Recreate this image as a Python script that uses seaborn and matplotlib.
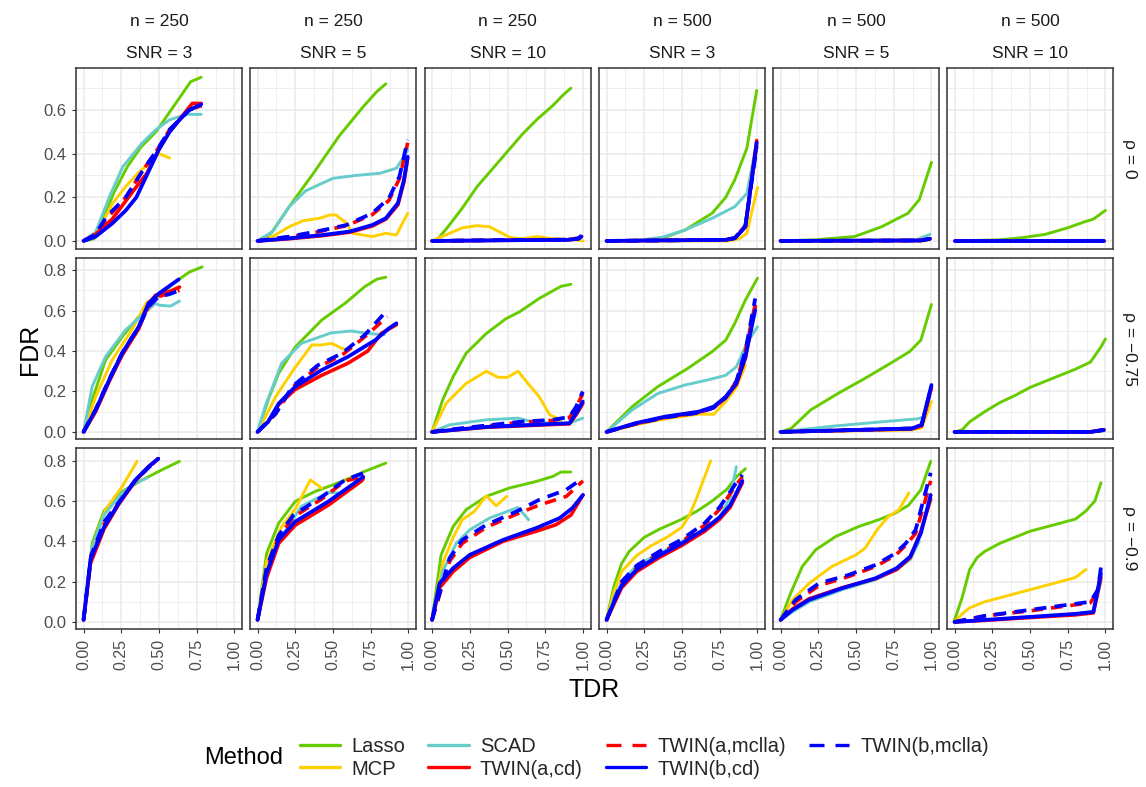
import matplotlib
matplotlib.use("Agg")
import matplotlib.pyplot as plt
import seaborn as sns
import pandas as pd
from matplotlib.lines import Line2D

# ---------------- data ----------------
methods = ["Lasso", "MCP", "SCAD", "TWIN(a,cd)", "TWIN(a,mclla)", "TWIN(b,cd)", "TWIN(b,mclla)"]
col_n = [250, 250, 250, 500, 500, 500]
col_snr = [3, 5, 10, 3, 5, 10]
row_rho = ["0", "\u22120.75", "\u22120.9"]
x_ticks = [0.0, 0.25, 0.5, 0.75, 1.0]
x_tick_labels = ["0.00", "0.25", "0.50", "0.75", "1.00"]
y_ticks_row = [[0.0, 0.2, 0.4, 0.6], [0.0, 0.2, 0.4, 0.6, 0.8], [0.0, 0.2, 0.4, 0.6, 0.8]]

# each panel: method -> (TDR list, FDR list)
rho0_n250_snr3 = {
    "Lasso": ([0, 0.07, 0.13, 0.2, 0.29, 0.38, 0.48, 0.56, 0.64, 0.71, 0.78],
              [0, 0.01, 0.1, 0.22, 0.34, 0.43, 0.5, 0.58, 0.66, 0.73, 0.75]),
    "MCP": ([0, 0.1, 0.19, 0.28, 0.36, 0.44, 0.5, 0.57],
            [0, 0.05, 0.17, 0.25, 0.31, 0.36, 0.4, 0.38]),
    "SCAD": ([0, 0.08, 0.17, 0.26, 0.39, 0.48, 0.57, 0.68, 0.78],
             [0, 0.04, 0.2, 0.34, 0.45, 0.51, 0.555, 0.58, 0.58]),
    "TWIN(a,cd)": ([0, 0.08, 0.19, 0.33, 0.42, 0.5, 0.57, 0.64, 0.72, 0.78],
                   [0, 0.03, 0.1, 0.23, 0.31, 0.42, 0.5, 0.56, 0.63, 0.63]),
    "TWIN(a,mclla)": ([0, 0.08, 0.15, 0.28, 0.39, 0.5, 0.57, 0.7, 0.78],
                      [0, 0.03, 0.1, 0.2, 0.32, 0.43, 0.51, 0.6, 0.62]),
    "TWIN(b,cd)": ([0, 0.08, 0.19, 0.28, 0.35, 0.415, 0.5, 0.57, 0.636, 0.7, 0.78],
                   [0, 0.02, 0.08, 0.14, 0.2, 0.295, 0.42, 0.5, 0.555, 0.6, 0.626]),
    "TWIN(b,mclla)": ([0, 0.08, 0.15, 0.28, 0.39, 0.5, 0.57, 0.7, 0.78],
                      [0, 0.03, 0.11, 0.2, 0.32, 0.43, 0.51, 0.6, 0.62]),
}
rho0_n250_snr5 = {
    "Lasso": ([0, 0.09, 0.21, 0.37, 0.54, 0.70, 0.79, 0.85],
              [0, 0.035, 0.157, 0.31, 0.48, 0.615, 0.684, 0.72]),
    "MCP": ([0, 0.1, 0.21, 0.3, 0.41, 0.48, 0.52, 0.59, 0.63, 0.76, 0.85, 0.92, 0.995],
            [0, 0.02, 0.065, 0.092, 0.104, 0.119, 0.119, 0.081, 0.035, 0.02, 0.035, 0.027, 0.127]),
    "SCAD": ([0, 0.1, 0.21, 0.32, 0.5, 0.65, 0.81, 0.92, 0.97, 0.995],
             [0, 0.043, 0.157, 0.23, 0.287, 0.30, 0.31, 0.333, 0.386, 0.417]),
    "TWIN(a,cd)": ([0, 0.21, 0.43, 0.61, 0.76, 0.85, 0.93, 0.97, 0.995],
                   [0, 0.01, 0.024, 0.04, 0.068, 0.1, 0.165, 0.27, 0.38]),
    "TWIN(a,mclla)": ([0, 0.21, 0.39, 0.59, 0.76, 0.87, 0.94, 0.995],
                      [0, 0.018, 0.04, 0.07, 0.12, 0.185, 0.285, 0.45]),
    "TWIN(b,cd)": ([0, 0.21, 0.43, 0.61, 0.76, 0.85, 0.93, 0.97, 0.995],
                   [0, 0.012, 0.027, 0.043, 0.073, 0.104, 0.173, 0.28, 0.386]),
    "TWIN(b,mclla)": ([0, 0.21, 0.39, 0.59, 0.76, 0.87, 0.94, 0.995],
                      [0, 0.02, 0.043, 0.073, 0.127, 0.195, 0.295, 0.463]),
}
rho0_n250_snr10 = {
    "Lasso": ([0, 0.04, 0.1, 0.2, 0.3, 0.4, 0.5, 0.6, 0.7, 0.8, 0.87, 0.92],
              [0, 0.01, 0.06, 0.15, 0.25, 0.33, 0.41, 0.49, 0.56, 0.62, 0.67, 0.70]),
    "MCP": ([0, 0.1, 0.2, 0.3, 0.38, 0.45, 0.52, 0.6, 0.7, 0.8, 0.95, 1.0],
            [0, 0.03, 0.06, 0.07, 0.065, 0.04, 0.015, 0.01, 0.02, 0.01, 0.005, 0.0]),
    "SCAD": ([0, 0.5, 0.9, 0.98], [0, 0.003, 0.005, 0.01]),
    "TWIN(a,cd)": ([0, 0.5, 0.9, 0.97, 0.99], [0, 0.003, 0.005, 0.01, 0.02]),
    "TWIN(a,mclla)": ([0, 0.5, 0.9, 0.97, 0.99], [0, 0.004, 0.006, 0.012, 0.025]),
    "TWIN(b,cd)": ([0, 0.5, 0.9, 0.97, 0.99], [0, 0.003, 0.005, 0.01, 0.02]),
    "TWIN(b,mclla)": ([0, 0.5, 0.9, 0.97, 0.99], [0, 0.004, 0.006, 0.012, 0.025]),
}
rho0_n500_snr3 = {
    "Lasso": ([0, 0.34, 0.52, 0.70, 0.79, 0.85, 0.93, 0.995],
              [0, 0.005, 0.05, 0.127, 0.20, 0.28, 0.425, 0.69]),
    "MCP": ([0, 0.8, 0.88, 0.93, 1.0], [0, 0.0, 0.01, 0.035, 0.245]),
    "SCAD": ([0, 0.2, 0.37, 0.52, 0.70, 0.85, 0.93, 0.985],
             [0, 0.002, 0.017, 0.05, 0.104, 0.157, 0.218, 0.417]),
    "TWIN(a,cd)": ([0, 0.79, 0.85, 0.92, 0.995], [0, 0.005, 0.012, 0.065, 0.46]),
    "TWIN(a,mclla)": ([0, 0.79, 0.85, 0.92, 0.995], [0, 0.005, 0.014, 0.07, 0.44]),
    "TWIN(b,cd)": ([0, 0.79, 0.85, 0.92, 0.995], [0, 0.005, 0.012, 0.065, 0.45]),
    "TWIN(b,mclla)": ([0, 0.79, 0.85, 0.92, 0.995], [0, 0.005, 0.014, 0.07, 0.43]),
}
rho0_n500_snr5 = {
    "Lasso": ([0, 0.23, 0.49, 0.67, 0.845, 0.92, 1.0], [0, 0.005, 0.02, 0.065, 0.127, 0.19, 0.36]),
    "MCP": ([0, 0.95, 0.99], [0, 0.0, 0.005]),
    "SCAD": ([0, 0.9, 0.99], [0, 0.005, 0.03]),
    "TWIN(a,cd)": ([0, 0.93, 0.99], [0, 0.002, 0.01]),
    "TWIN(a,mclla)": ([0, 0.93, 0.99], [0, 0.002, 0.01]),
    "TWIN(b,cd)": ([0, 0.93, 0.99], [0, 0.002, 0.01]),
    "TWIN(b,mclla)": ([0, 0.93, 0.99], [0, 0.002, 0.01]),
}
rho0_n500_snr10 = {
    "Lasso": ([0, 0.3, 0.45, 0.6, 0.75, 0.85, 0.92, 1.0], [0, 0.005, 0.015, 0.03, 0.06, 0.085, 0.1, 0.14]),
    "MCP": ([0, 0.99], [0, 0.0]),
    "SCAD": ([0, 0.99], [0, 0.003]),
    "TWIN(a,cd)": ([0, 0.99], [0, 0.0]),
    "TWIN(a,mclla)": ([0, 0.99], [0, 0.0]),
    "TWIN(b,cd)": ([0, 0.99], [0, 0.0]),
    "TWIN(b,mclla)": ([0, 0.99], [0, 0.0]),
}
rho75_n250_snr3 = {
    "Lasso": ([0, 0.057, 0.146, 0.256, 0.366, 0.477, 0.61, 0.70, 0.786],
              [0, 0.158, 0.356, 0.47, 0.57, 0.66, 0.742, 0.79, 0.816]),
    "MCP": ([0, 0.08, 0.19, 0.32, 0.42, 0.477], [0, 0.174, 0.356, 0.504, 0.643, 0.66]),
    "SCAD": ([0, 0.057, 0.146, 0.278, 0.39, 0.477, 0.50, 0.576, 0.636],
             [0, 0.224, 0.372, 0.504, 0.578, 0.636, 0.627, 0.622, 0.647]),
    "TWIN(a,cd)": ([0, 0.08, 0.17, 0.256, 0.366, 0.43, 0.477, 0.565, 0.636],
                   [0, 0.1, 0.25, 0.38, 0.51, 0.63, 0.676, 0.693, 0.716]),
    "TWIN(a,mclla)": ([0, 0.08, 0.17, 0.256, 0.366, 0.43, 0.5, 0.636],
                      [0, 0.11, 0.26, 0.39, 0.52, 0.62, 0.67, 0.70]),
    "TWIN(b,cd)": ([0, 0.08, 0.17, 0.256, 0.366, 0.43, 0.5, 0.63],
                   [0, 0.109, 0.257, 0.39, 0.52, 0.636, 0.685, 0.754]),
    "TWIN(b,mclla)": ([0, 0.08, 0.17, 0.256, 0.366, 0.43, 0.5, 0.565, 0.636],
                      [0, 0.11, 0.26, 0.39, 0.52, 0.62, 0.67, 0.68, 0.70]),
}
rho75_n250_snr5 = {
    "Lasso": ([0, 0.07, 0.14, 0.25, 0.425, 0.58, 0.71, 0.79, 0.85],
              [0, 0.158, 0.29, 0.42, 0.553, 0.636, 0.718, 0.755, 0.765]),
    "MCP": ([0, 0.12, 0.25, 0.36, 0.425, 0.49, 0.57], [0, 0.174, 0.32, 0.43, 0.43, 0.438, 0.41]),
    "SCAD": ([0, 0.05, 0.16, 0.29, 0.49, 0.62, 0.73, 0.84],
             [0, 0.125, 0.34, 0.438, 0.49, 0.499, 0.487, 0.48]),
    "TWIN(a,cd)": ([0, 0.07, 0.14, 0.25, 0.425, 0.60, 0.73, 0.82, 0.92],
                   [0, 0.05, 0.135, 0.21, 0.28, 0.34, 0.40, 0.487, 0.53]),
    "TWIN(a,mclla)": ([0, 0.12, 0.23, 0.40, 0.56, 0.71, 0.86],
                      [0, 0.09, 0.22, 0.32, 0.38, 0.47, 0.57]),
    "TWIN(b,cd)": ([0, 0.07, 0.14, 0.25, 0.425, 0.60, 0.78, 0.87, 0.92],
                   [0, 0.05, 0.14, 0.224, 0.306, 0.372, 0.454, 0.512, 0.537]),
    "TWIN(b,mclla)": ([0, 0.12, 0.23, 0.40, 0.56, 0.71, 0.84],
                      [0, 0.09, 0.224, 0.33, 0.389, 0.479, 0.586]),
}
rho75_n250_snr10 = {
    "Lasso": ([0, 0.07, 0.14, 0.226, 0.36, 0.49, 0.58, 0.71, 0.855, 0.92],
              [0, 0.158, 0.273, 0.389, 0.487, 0.56, 0.594, 0.66, 0.72, 0.73]),
    "MCP": ([0, 0.094, 0.226, 0.36, 0.436, 0.5, 0.57, 0.635, 0.71, 0.78, 0.855],
            [0, 0.142, 0.24, 0.30, 0.27, 0.27, 0.30, 0.24, 0.174, 0.084, 0.06]),
    "SCAD": ([0, 0.116, 0.36, 0.57, 0.69, 0.91, 0.999], [0, 0.035, 0.06, 0.068, 0.046, 0.043, 0.068]),
    "TWIN(a,cd)": ([0, 0.36, 0.91, 0.955, 0.999], [0, 0.023, 0.04, 0.085, 0.14]),
    "TWIN(a,mclla)": ([0, 0.18, 0.58, 0.8, 0.91, 0.955, 0.999], [0, 0.015, 0.047, 0.057, 0.07, 0.12, 0.19]),
    "TWIN(b,cd)": ([0, 0.36, 0.91, 0.955, 0.999], [0, 0.025, 0.043, 0.092, 0.15]),
    "TWIN(b,mclla)": ([0, 0.18, 0.58, 0.8, 0.91, 0.955, 0.999], [0, 0.017, 0.05, 0.06, 0.074, 0.125, 0.2]),
}
rho75_n500_snr3 = {
    "Lasso": ([0, 0.17, 0.34, 0.54, 0.70, 0.79, 0.85, 0.92, 1.0],
              [0, 0.125, 0.224, 0.315, 0.397, 0.454, 0.537, 0.652, 0.76]),
    "MCP": ([0, 0.19, 0.39, 0.61, 0.71, 0.79, 0.86, 0.92], [0, 0.035, 0.065, 0.088, 0.087, 0.15, 0.22, 0.33]),
    "SCAD": ([0, 0.17, 0.34, 0.52, 0.67, 0.79, 0.86, 0.93, 1.0],
             [0, 0.109, 0.19, 0.232, 0.257, 0.28, 0.322, 0.438, 0.52]),
    "TWIN(a,cd)": ([0, 0.19, 0.39, 0.61, 0.71, 0.79, 0.86, 0.92, 0.985],
                   [0, 0.04, 0.073, 0.097, 0.12, 0.17, 0.235, 0.365, 0.62]),
    "TWIN(a,mclla)": ([0, 0.19, 0.39, 0.61, 0.71, 0.79, 0.86, 0.92, 0.985],
                      [0, 0.04, 0.072, 0.095, 0.12, 0.17, 0.25, 0.4, 0.63]),
    "TWIN(b,cd)": ([0, 0.19, 0.39, 0.61, 0.71, 0.79, 0.86, 0.92, 0.985],
                   [0, 0.043, 0.076, 0.1, 0.125, 0.174, 0.24, 0.372, 0.602]),
    "TWIN(b,mclla)": ([0, 0.19, 0.39, 0.61, 0.71, 0.79, 0.86, 0.92, 0.985],
                      [0, 0.04, 0.072, 0.095, 0.12, 0.17, 0.25, 0.4, 0.66]),
}
rho75_n500_snr5 = {
    "Lasso": ([0, 0.07, 0.20, 0.38, 0.56, 0.73, 0.855, 0.93, 1.0],
              [0, 0.017, 0.109, 0.19, 0.265, 0.34, 0.397, 0.454, 0.63]),
    "MCP": ([0, 0.87, 0.935, 1.0], [0, 0.01, 0.02, 0.15]),
    "SCAD": ([0, 0.34, 0.67, 0.91, 0.93], [0, 0.028, 0.05, 0.065, 0.07]),
    "TWIN(a,cd)": ([0, 0.87, 0.935, 1.0], [0, 0.015, 0.03, 0.22]),
    "TWIN(a,mclla)": ([0, 0.87, 0.935, 1.0], [0, 0.017, 0.035, 0.22]),
    "TWIN(b,cd)": ([0, 0.87, 0.935, 1.0], [0, 0.017, 0.035, 0.232]),
    "TWIN(b,mclla)": ([0, 0.87, 0.935, 1.0], [0, 0.017, 0.035, 0.225]),
}
rho75_n500_snr10 = {
    "Lasso": ([0, 0.05, 0.1, 0.2, 0.3, 0.4, 0.5, 0.6, 0.7, 0.8, 0.9, 0.97, 1.0],
              [0, 0.01, 0.05, 0.1, 0.145, 0.18, 0.22, 0.25, 0.28, 0.31, 0.345, 0.42, 0.46]),
    "MCP": ([0, 0.9, 0.99], [0, 0.0, 0.005]),
    "SCAD": ([0, 0.9, 0.99], [0, 0.0, 0.005]),
    "TWIN(a,cd)": ([0, 0.9, 0.99], [0, 0.0, 0.01]),
    "TWIN(a,mclla)": ([0, 0.9, 0.99], [0, 0.0, 0.01]),
    "TWIN(b,cd)": ([0, 0.9, 0.99], [0, 0.0, 0.01]),
    "TWIN(b,mclla)": ([0, 0.9, 0.99], [0, 0.0, 0.01]),
}
rho9_n250_snr3 = {
    "Lasso": ([0, 0.057, 0.135, 0.256, 0.39, 0.52, 0.636], [0.01, 0.39, 0.55, 0.647, 0.705, 0.755, 0.797]),
    "MCP": ([0, 0.057, 0.146, 0.256, 0.355], [0.01, 0.37, 0.557, 0.672, 0.797]),
    "SCAD": ([0, 0.057, 0.135, 0.256, 0.366, 0.42], [0.01, 0.37, 0.53, 0.64, 0.697, 0.714]),
    "TWIN(a,cd)": ([0, 0.046, 0.135, 0.234, 0.344, 0.43, 0.495], [0.01, 0.29, 0.46, 0.585, 0.70, 0.77, 0.81]),
    "TWIN(a,mclla)": ([0, 0.05, 0.14, 0.22, 0.34, 0.43, 0.495], [0.01, 0.32, 0.49, 0.575, 0.70, 0.765, 0.81]),
    "TWIN(b,cd)": ([0, 0.046, 0.135, 0.234, 0.344, 0.43, 0.495], [0.01, 0.31, 0.47, 0.59, 0.705, 0.77, 0.81]),
    "TWIN(b,mclla)": ([0, 0.05, 0.14, 0.22, 0.34, 0.43, 0.495], [0.01, 0.33, 0.5, 0.58, 0.70, 0.765, 0.81]),
}
rho9_n250_snr5 = {
    "Lasso": ([0, 0.06, 0.14, 0.25, 0.38, 0.56, 0.71, 0.85], [0.01, 0.34, 0.49, 0.598, 0.647, 0.697, 0.747, 0.788]),
    "MCP": ([0, 0.06, 0.16, 0.25, 0.35, 0.425], [0.01, 0.3, 0.474, 0.56, 0.705, 0.664]),
    "SCAD": ([0, 0.06, 0.16, 0.29, 0.47, 0.535], [0.01, 0.25, 0.424, 0.573, 0.643, 0.64]),
    "TWIN(a,cd)": ([0, 0.06, 0.14, 0.25, 0.47, 0.69, 0.70], [0.01, 0.22, 0.39, 0.48, 0.58, 0.70, 0.71]),
    "TWIN(a,mclla)": ([0, 0.06, 0.14, 0.237, 0.425, 0.58, 0.70], [0.01, 0.26, 0.42, 0.52, 0.61, 0.70, 0.72]),
    "TWIN(b,cd)": ([0, 0.06, 0.14, 0.25, 0.47, 0.69, 0.70], [0.01, 0.242, 0.407, 0.498, 0.598, 0.714, 0.72]),
    "TWIN(b,mclla)": ([0, 0.06, 0.14, 0.237, 0.425, 0.58, 0.70], [0.01, 0.27, 0.43, 0.53, 0.62, 0.705, 0.738]),
}
rho9_n250_snr10 = {
    "Lasso": ([0, 0.06, 0.14, 0.226, 0.36, 0.51, 0.69, 0.80, 0.855, 0.92],
              [0.01, 0.333, 0.474, 0.557, 0.623, 0.664, 0.697, 0.722, 0.744, 0.744]),
    "MCP": ([0, 0.07, 0.14, 0.2, 0.28, 0.36, 0.425, 0.495], [0.01, 0.29, 0.42, 0.507, 0.548, 0.626, 0.576, 0.623]),
    "SCAD": ([0, 0.07, 0.16, 0.25, 0.38, 0.57, 0.64], [0.01, 0.25, 0.39, 0.457, 0.515, 0.568, 0.507]),
    "TWIN(a,cd)": ([0, 0.05, 0.14, 0.25, 0.47, 0.69, 0.82, 0.92, 1.0],
                   [0.01, 0.17, 0.25, 0.32, 0.40, 0.45, 0.482, 0.53, 0.63]),
    "TWIN(a,mclla)": ([0, 0.116, 0.2, 0.36, 0.56, 0.71, 0.89, 1.0],
                      [0.01, 0.30, 0.39, 0.47, 0.535, 0.58, 0.623, 0.70]),
    "TWIN(b,cd)": ([0, 0.05, 0.14, 0.25, 0.47, 0.69, 0.845, 0.93, 1.0],
                   [0.01, 0.192, 0.267, 0.333, 0.407, 0.466, 0.515, 0.565, 0.63]),
    "TWIN(b,mclla)": ([0, 0.116, 0.2, 0.36, 0.56, 0.71, 0.89, 1.0],
                      [0.01, 0.316, 0.407, 0.482, 0.548, 0.606, 0.656, 0.714]),
}
rho9_n500_snr3 = {
    "Lasso": ([0, 0.05, 0.1, 0.15, 0.25, 0.35, 0.5, 0.6, 0.7, 0.8, 0.86, 0.92],
              [0.01, 0.18, 0.29, 0.35, 0.42, 0.46, 0.51, 0.55, 0.6, 0.66, 0.72, 0.76]),
    "MCP": ([0, 0.05, 0.1, 0.2, 0.3, 0.4, 0.5, 0.55, 0.6, 0.65, 0.69],
            [0.01, 0.15, 0.25, 0.33, 0.38, 0.42, 0.47, 0.53, 0.62, 0.72, 0.8]),
    "SCAD": ([0, 0.05, 0.1, 0.2, 0.35, 0.5, 0.65, 0.75, 0.82, 0.86],
             [0.01, 0.12, 0.2, 0.28, 0.34, 0.4, 0.46, 0.52, 0.62, 0.77]),
    "TWIN(a,cd)": ([0, 0.05, 0.1, 0.2, 0.35, 0.5, 0.65, 0.75, 0.82, 0.9],
                   [0.01, 0.09, 0.17, 0.25, 0.32, 0.38, 0.45, 0.51, 0.57, 0.69]),
    "TWIN(a,mclla)": ([0, 0.1, 0.2, 0.35, 0.5, 0.65, 0.75, 0.85, 0.9],
                      [0.01, 0.19, 0.27, 0.34, 0.4, 0.48, 0.56, 0.67, 0.72]),
    "TWIN(b,cd)": ([0, 0.05, 0.1, 0.2, 0.35, 0.5, 0.65, 0.75, 0.82, 0.9],
                   [0.01, 0.1, 0.18, 0.26, 0.33, 0.39, 0.46, 0.52, 0.58, 0.7]),
    "TWIN(b,mclla)": ([0, 0.1, 0.2, 0.35, 0.5, 0.65, 0.75, 0.85, 0.9],
                      [0.01, 0.2, 0.28, 0.35, 0.41, 0.49, 0.57, 0.68, 0.73]),
}
rho9_n500_snr5 = {
    "Lasso": ([0, 0.067, 0.144, 0.233, 0.366, 0.52, 0.65, 0.76, 0.85, 0.93, 0.995],
              [0.01, 0.143, 0.275, 0.358, 0.424, 0.474, 0.507, 0.54, 0.58, 0.656, 0.797]),
    "MCP": ([0, 0.08, 0.19, 0.34, 0.5, 0.56, 0.64, 0.71, 0.785, 0.85],
            [0.01, 0.11, 0.192, 0.275, 0.333, 0.366, 0.457, 0.52, 0.557, 0.64]),
    "SCAD": ([0, 0.08, 0.19, 0.41, 0.63, 0.77, 0.86, 0.92], [0.01, 0.05, 0.1, 0.16, 0.21, 0.26, 0.31, 0.40]),
    "TWIN(a,cd)": ([0, 0.08, 0.19, 0.41, 0.63, 0.77, 0.86, 0.93, 0.995],
                   [0.01, 0.065, 0.115, 0.17, 0.215, 0.26, 0.32, 0.45, 0.61]),
    "TWIN(a,mclla)": ([0, 0.1, 0.255, 0.45, 0.63, 0.76, 0.83, 0.895, 0.95, 0.995],
                      [0.01, 0.1, 0.18, 0.225, 0.275, 0.33, 0.38, 0.44, 0.58, 0.70]),
    "TWIN(b,cd)": ([0, 0.08, 0.19, 0.41, 0.63, 0.77, 0.86, 0.93, 0.995],
                   [0.01, 0.06, 0.11, 0.168, 0.217, 0.267, 0.325, 0.44, 0.63]),
    "TWIN(b,mclla)": ([0, 0.1, 0.255, 0.45, 0.63, 0.76, 0.83, 0.895, 0.95, 0.995],
                      [0.01, 0.11, 0.192, 0.233, 0.283, 0.34, 0.39, 0.457, 0.615, 0.74]),
}
rho9_n500_snr10 = {
    "Lasso": ([0, 0.05, 0.1, 0.15, 0.2, 0.3, 0.4, 0.5, 0.6, 0.7, 0.8, 0.87, 0.93, 0.97],
              [0.01, 0.12, 0.26, 0.32, 0.35, 0.39, 0.42, 0.45, 0.47, 0.49, 0.51, 0.55, 0.6, 0.69]),
    "MCP": ([0, 0.05, 0.1, 0.2, 0.3, 0.4, 0.5, 0.6, 0.7, 0.8, 0.87],
            [0.0, 0.04, 0.07, 0.1, 0.12, 0.14, 0.16, 0.18, 0.2, 0.22, 0.26]),
    "SCAD": ([0, 0.2, 0.5, 0.8, 0.92, 0.97], [0.0, 0.01, 0.025, 0.04, 0.05, 0.2]),
    "TWIN(a,cd)": ([0, 0.2, 0.5, 0.8, 0.92, 0.97], [0.0, 0.008, 0.022, 0.035, 0.045, 0.22]),
    "TWIN(a,mclla)": ([0, 0.2, 0.5, 0.8, 0.9, 0.95, 0.97], [0.0, 0.03, 0.055, 0.085, 0.095, 0.15, 0.26]),
    "TWIN(b,cd)": ([0, 0.2, 0.5, 0.8, 0.92, 0.97], [0.0, 0.01, 0.025, 0.04, 0.05, 0.24]),
    "TWIN(b,mclla)": ([0, 0.2, 0.5, 0.8, 0.9, 0.95, 0.97], [0.0, 0.03, 0.06, 0.09, 0.1, 0.16, 0.27]),
}

panels = [
    [rho0_n250_snr3, rho0_n250_snr5, rho0_n250_snr10, rho0_n500_snr3, rho0_n500_snr5, rho0_n500_snr10],
    [rho75_n250_snr3, rho75_n250_snr5, rho75_n250_snr10, rho75_n500_snr3, rho75_n500_snr5, rho75_n500_snr10],
    [rho9_n250_snr3, rho9_n250_snr5, rho9_n250_snr10, rho9_n500_snr3, rho9_n500_snr5, rho9_n500_snr10],
]

# ---------------- styling ----------------
palette = {"Lasso": "#66CC00", "MCP": "#FFD000", "SCAD": "#66CCCC",
           "TWIN(a,cd)": "#FF0000", "TWIN(a,mclla)": "#FF0000",
           "TWIN(b,cd)": "#0000FF", "TWIN(b,mclla)": "#0000FF"}
dash_map = {"Lasso": "", "MCP": "", "SCAD": "", "TWIN(a,cd)": "",
            "TWIN(a,mclla)": (3.2, 2.2), "TWIN(b,cd)": "", "TWIN(b,mclla)": (3.2, 2.2)}
size_map = {"Lasso": 2.1, "MCP": 2.1, "SCAD": 2.1, "TWIN(a,cd)": 2.6,
            "TWIN(a,mclla)": 2.6, "TWIN(b,cd)": 2.7, "TWIN(b,mclla)": 2.7}

sns.set_theme(style="white")
plt.rcParams["font.family"] = ["Liberation Sans", "DejaVu Sans"]

FW, FH = 1146, 787
fig = plt.figure(figsize=(FW / 100, FH / 100), dpi=100)

lefts = [76, 250, 424.5, 599, 773, 947]
tops = [68, 258, 448]
PW, PH = 166, 181
ylims = [(-0.037, 0.7925), (-0.035, 0.86), (-0.035, 0.863)]
minor_x = [0.125, 0.375, 0.625, 0.875]
minor_y = [[0.1, 0.3, 0.5, 0.7], [0.1, 0.3, 0.5, 0.7], [0.1, 0.3, 0.5, 0.7]]
tick_col = "#4D4D4D"
edge_col = "#333333"

for r in range(3):
    for c in range(6):
        ax = fig.add_axes([lefts[c] / FW, 1 - (tops[r] + PH) / FH, PW / FW, PH / FH])
        d = panels[r][c]
        rows = []
        for m in methods:
            t, f = d[m]
            for a, b in zip(t, f):
                rows.append((m, a, b))
        df = pd.DataFrame(rows, columns=["Method", "TDR", "FDR"])
        sns.lineplot(data=df, x="TDR", y="FDR", hue="Method", style="Method", size="Method",
                     hue_order=methods, style_order=methods, size_order=methods,
                     palette=palette, dashes=dash_map, sizes=size_map,
                     estimator=None, sort=False, legend=False, ax=ax)
        ax.set_xlim(-0.05, 1.05)
        ax.set_ylim(*ylims[r])
        ax.set_xticks(x_ticks)
        ax.set_xticks(minor_x, minor=True)
        ax.set_yticks(y_ticks_row[r])
        ax.set_yticks(minor_y[r], minor=True)
        ax.set_axisbelow(True)
        ax.grid(True, which="major", color="#EBEBEB", lw=1.2)
        ax.grid(True, which="minor", color="#EBEBEB", lw=0.6)
        ax.set_facecolor("white")
        for s in ax.spines.values():
            s.set_visible(True)
            s.set_color(edge_col)
            s.set_linewidth(1.1)
        ax.set_xlabel("")
        ax.set_ylabel("")
        ax.tick_params(which="minor", length=0)
        if r == 2:
            ax.set_xticklabels(x_tick_labels, rotation=90, fontsize=11.5, color=tick_col)
            ax.tick_params(axis="x", which="major", length=3.2, width=0.8, color=edge_col, pad=4, bottom=True)
        else:
            ax.set_xticklabels([])
            ax.tick_params(axis="x", which="major", length=0)
        if c == 0:
            ax.set_yticklabels([f"{v:.1f}" for v in y_ticks_row[r]], fontsize=12, color=tick_col)
            ax.tick_params(axis="y", which="major", length=3.2, width=0.8, color=edge_col, pad=4, left=True)
        else:
            ax.set_yticklabels([])
            ax.tick_params(axis="y", which="major", length=0)

# strip labels
for c in range(6):
    cx = (lefts[c] + PW / 2) / FW
    fig.text(cx, 1 - 22 / FH, f"n = {col_n[c]}", ha="center", va="center", fontsize=12.5, color="#1A1A1A")
    fig.text(cx, 1 - 53 / FH, f"SNR = {col_snr[c]}", ha="center", va="center", fontsize=12.5, color="#1A1A1A")
for r in range(3):
    cy = 1 - (tops[r] + PH / 2) / FH
    fig.text(1129 / FW, cy, f"\u03c1 = {row_rho[r]}", ha="center", va="center", rotation=-90,
             fontsize=12.5, color="#1A1A1A")

# axis titles
fig.text(30 / FW, 1 - 349 / FH, "FDR", rotation=90, ha="center", va="center", fontsize=18, color="black")
fig.text(594 / FW, 1 - 690 / FH, "TDR", ha="center", va="center", fontsize=18, color="black")

# legend
handles = []
for m in methods:
    ls = (0, (4.5, 3.3)) if "mclla" in m else "-"
    handles.append(Line2D([0], [0], color=palette[m], lw=2.4, linestyle=ls))
fig.text(204 / FW, 1 - 758 / FH, "Method", ha="left", va="center", fontsize=17, color="black")
fig.legend(handles, methods, ncol=4, loc="center left", bbox_to_anchor=(300 / FW, 1 - 758 / FH),
           frameon=False, fontsize=14.5, handlelength=2.0, handletextpad=0.55, columnspacing=1.15,
           labelspacing=0.15, borderpad=0, borderaxespad=0)

fig.savefig("out.png", dpi=100)
